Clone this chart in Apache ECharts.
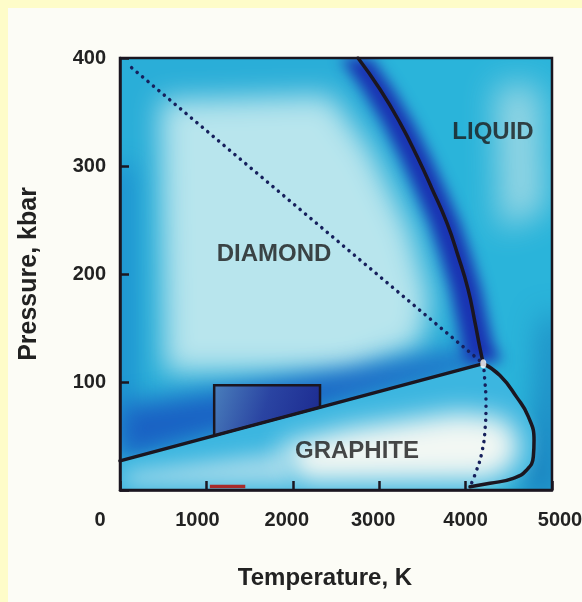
<!DOCTYPE html>
<html><head><meta charset="utf-8">
<script src="https://cdn.jsdelivr.net/npm/echarts@6/dist/echarts.min.js"></script>
<style>html,body{margin:0;padding:0;background:#fefcc9;}#c{width:582px;height:602px;}</style>
</head><body><div id="c"></div>
<script>
// ---- data (Temperature K, Pressure kbar) ----
const tempTicks = [0, 1000, 2000, 3000, 4000, 5000];
const pressureTicks = [0, 100, 200, 300, 400];
const graphiteDiamondLine = [[0, 27], [4205, 117]];
const meltingDiamond = [[2755, 400], [3009, 371], [3241, 340], [3438, 309], [3611, 279], [3785, 247], [3912, 217], [4028, 186], [4109, 155], [4167, 131], [4205, 117]];
const meltingGraphite = [[4205, 117], [4398, 106], [4591, 86], [4726, 68], [4792, 46], [4784, 31], [4707, 18.5], [4552, 10.8], [4282, 6.2], [4051, 3.1]];
const metastableDiamond = [[135, 391], [4205, 117]];
const metastableGraphite = [[4205, 117], [4216, 108], [4236, 80], [4225, 56], [4186, 34], [4128, 18.5], [4059, 4.6]];
const triplePoint = [[4205, 117]];
const experimentBox = [[1090, 50.3], [1090, 97], [2315, 97], [2315, 76.5]];
const redMark = [[1040, 3.2], [1450, 3.2]];
const phaseNames = ['DIAMOND', 'LIQUID', 'GRAPHITE'];
const phaseLabelAt = [[1782, 218], [4317, 331], [2743, 36]];

// shading regions (data coords)
const plotArea = [[0, 0], [0, 400], [5000, 400], [5000, 0]];
const liquidRegion = meltingDiamond.concat(meltingGraphite.slice(1), [[4051, 0], [5000, 0], [5000, 400]]);
const graphiteRegion = [[0, 0]].concat(graphiteDiamondLine.slice(0, 1), meltingGraphite, [[4051, 0]]);
const shadeDiamondLight = [[463, 361], [2431, 366], [2894, 315], [3356, 241], [3588, 176], [3472, 134], [2662, 109], [521, 109]];
const shadeDiamondEdge = [[-100, 40], [-100, 300], [150, 300], [150, 40]];
const shadeDiamondBand = [[0, 27], [0, 78], [1200, 92], [2600, 110], [3900, 127], [4250, 125], [4205, 117]];
const shadeLiquidBand = [[2555, 400], [2809, 371], [3041, 340], [3238, 309], [3411, 279], [3585, 247], [3712, 217], [3828, 186], [3909, 155], [3967, 131], [4005, 117],
  [4420, 119], [4317, 135], [4259, 155], [4178, 186], [4062, 217], [3935, 247], [3761, 279], [3588, 309], [3391, 340], [3159, 371], [2905, 400]];
const shadeLiquidLight = [[4340, 375], [4861, 375], [4919, 259], [4398, 241]];
const shadeLiquidDark = [[4900, 160], [5100, 160], [5100, -10], [4600, -10], [4750, 40], [4850, 90]];
const shadeGraphiteWhite = [[1852, 41.7], [2662, 57.4], [3935, 72.2], [4456, 66.7], [4630, 46.3], [4572, 23.1], [4282, 9.3], [2083, 7.4]];
const shadeGraphiteLow = [[58, 16.7], [1970, 37], [1970, 3.7], [58, 3.7]];

const FONT = 'Liberation Sans, Arial, sans-serif';
const INK = '#1b1620';

function shadeSeries(zlevel, region, base, blobs, atop) {
  return {
    type: 'custom', coordinateSystem: 'cartesian2d', zlevel: zlevel, clip: true, silent: true,
    data: [[0, 0]],
    renderItem: function (params, api) {
      const px = pts => pts.map(p => api.coord(p));
      const OFF = 2500;
      const children = [{ type: 'polygon', shape: { points: px(region) }, style: { fill: base } }];
      blobs.forEach(b => {
        children.push({
          type: 'polygon',
          shape: { points: px(b[0]).map(q => [q[0] + OFF, q[1]]) },
          style: { fill: b[1], shadowBlur: b[2], shadowColor: b[1], shadowOffsetX: -OFF, shadowOffsetY: 0, blend: atop ? 'source-atop' : 'source-over' }
        });
      });
      return { type: 'group', children: children };
    }
  };
}

function lineSeries(data, color, width, smooth, dashed) {
  return {
    type: 'line', data: data, zlevel: 4, z: 3, showSymbol: false, symbol: 'none', smooth: smooth, silent: true,
    lineStyle: { color: color, width: width, type: dashed ? [0.1, 7] : 'solid', cap: 'round', join: 'round' }
  };
}

const xRich = {
  s0: { padding: [0, 40, 0, 0] }, s1000: { padding: [0, 18, 0, 0] }, s2000: { padding: [0, 12, 0, 0] },
  s3000: { padding: [0, 12, 0, 0] }, s4000: { padding: [0, 0, 0, 0] }, s5000: { padding: [0, 0, 0, 16] }
};
Object.keys(xRich).forEach(k => Object.assign(xRich[k], { fontSize: 20, fontWeight: 'bold', color: '#222', fontFamily: FONT }));

const chart = echarts.init(document.getElementById('c'), null, { renderer: 'canvas' });
chart.setOption({
  backgroundColor: '#fefcc9',
  animation: false,
  graphic: [{ type: 'rect', left: 8, top: 8, shape: { width: 574, height: 594 }, style: { fill: '#fcfcf6' }, z: -10, silent: true }],
  grid: { left: 120, right: 30, top: 58, bottom: 112, show: true, borderColor: INK, borderWidth: 2.5, backgroundColor: 'transparent', zlevel: 4, outerBoundsMode: 'none' },
  xAxis: {
    type: 'value', min: tempTicks[0], max: tempTicks[tempTicks.length - 1], interval: 1000, zlevel: 4,
    axisLine: { show: true, lineStyle: { color: INK, width: 2.5 } },
    axisTick: { show: true, inside: true, length: 9, lineStyle: { color: INK, width: 2.5 } },
    splitLine: { show: false },
    axisLabel: { margin: 20, formatter: v => '{s' + v + '|' + v + '}', rich: xRich, fontSize: 20, fontWeight: 'bold', color: '#222', fontFamily: FONT },
    name: 'Temperature, K', nameLocation: 'middle', nameGap: 76,
    nameTextStyle: { fontSize: 24, fontWeight: 'bold', color: '#222', fontFamily: FONT, padding: [0, 22, 0, 0] }
  },
  yAxis: {
    type: 'value', min: pressureTicks[0], max: pressureTicks[pressureTicks.length - 1], interval: 100, zlevel: 4,
    axisLine: { show: true, lineStyle: { color: INK, width: 2.5 } },
    axisTick: { show: true, inside: true, length: 9, lineStyle: { color: INK, width: 2.5 } },
    splitLine: { show: false },
    axisLabel: { margin: 14, fontSize: 20, fontWeight: 'bold', color: '#222', fontFamily: FONT, formatter: v => v === 0 ? '' : String(v) },
    name: 'Pressure, kbar', nameLocation: 'middle', nameGap: 78, nameRotate: 90,
    nameTextStyle: { fontSize: 25, fontWeight: 'bold', color: '#222', fontFamily: FONT }
  },
  series: [
    shadeSeries(1, plotArea, '#2aaed8', [
      [shadeDiamondLight, '#b8e5ed', 28],
      [shadeDiamondEdge, '#1c8ccf', 24],
      [shadeDiamondBand, '#1a62c4', 24]
    ], false),
    shadeSeries(2, liquidRegion, '#2ab4da', [
      [shadeLiquidLight, '#96d6e4', 32],
      [shadeLiquidDark, '#1a7fbe', 30],
      [shadeLiquidBand, '#1a32b2', 14]
    ], true),
    shadeSeries(3, graphiteRegion, '#3cb6e0', [
      [shadeGraphiteLow, '#9ed8ea', 20],
      [shadeGraphiteWhite, '#f2f7f3', 26]
    ], true),
    {
      type: 'custom', coordinateSystem: 'cartesian2d', zlevel: 4, z: 2, silent: true, data: [[0, 0]],
      renderItem: function (params, api) {
        return {
          type: 'polygon', shape: { points: experimentBox.map(p => api.coord(p)) },
          style: {
            fill: new echarts.graphic.LinearGradient(0, 0, 1, 0.7, [{ offset: 0, color: '#4a80bc' }, { offset: 0.5, color: '#2a44a2' }, { offset: 1, color: '#1c2a90' }]),
            stroke: INK, lineWidth: 2.5, lineJoin: 'miter'
          }
        };
      }
    },
    lineSeries(graphiteDiamondLine, INK, 3.5, false, false),
    lineSeries(meltingDiamond, INK, 3.5, true, false),
    lineSeries(meltingGraphite, INK, 3.5, true, false),
    lineSeries(metastableDiamond, '#16205c', 3.5, false, true),
    lineSeries(metastableGraphite, '#16205c', 3.5, true, true),
    { type: 'line', data: redMark, zlevel: 4, z: 4, showSymbol: false, symbol: 'none', silent: true, lineStyle: { color: '#a82a2a', width: 3.5, cap: 'butt' } },
    { type: 'scatter', data: triplePoint, zlevel: 4, z: 6, symbol: 'circle', symbolSize: [6, 9], itemStyle: { color: '#ffffff' }, silent: true },
    {
      type: 'scatter', zlevel: 4, z: 7, symbolSize: 0, silent: true,
      data: phaseNames.map((n, i) => ({ name: n, value: phaseLabelAt[i] })),
      label: { show: true, position: 'inside', formatter: '{b}', fontSize: 24, fontWeight: 'bold', color: '#1a1a1a', fontFamily: FONT }
    }
  ]
});
</script></body></html>
